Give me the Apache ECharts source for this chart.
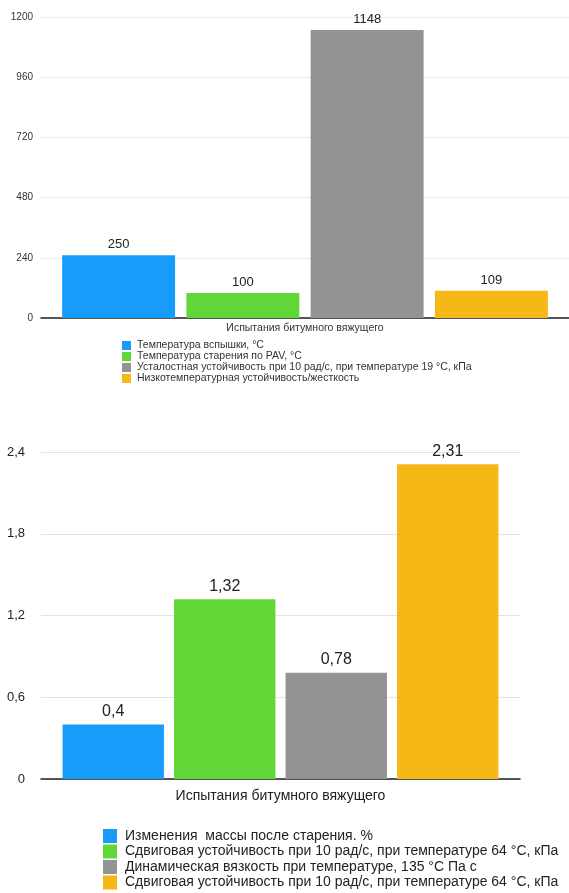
<!DOCTYPE html>
<html><head><meta charset="utf-8">
<script src="https://cdn.jsdelivr.net/npm/echarts@6/dist/echarts.min.js"></script>
<style>html,body{margin:0;padding:0;background:#fff}#c{width:569px;height:893px}</style>
</head><body><div id="c"></div>
<script>
var categories = ['Испытания битумного вяжущего'];
var names1 = ['Температура вспышки, °С', 'Температура старения по PAV, °С', 'Усталостная устойчивость при 10 рад/с, при температуре 19 °С, кПа', 'Низкотемпературная устойчивость/жесткость'];
var values1 = [250, 100, 1148, 109];
var ticks1 = [0, 240, 480, 720, 960, 1200];
var names2 = ['Изменения  массы после старения. %', 'Сдвиговая устойчивость при 10 рад/с, при температуре 64 °С, кПа', 'Динамическая вязкость при температуре, 135 °С Па с', 'Сдвиговая устойчивость при 10 рад/с, при температуре 64 °С, кПа\u200b'];
var values2 = [0.4, 1.32, 0.78, 2.31];
var ticks2 = [0, 0.6, 1.2, 1.8, 2.4];
var colors = ['#189CFB', '#60D737', '#939393', '#F5B816'];
var FONT = 'Liberation Sans, Arial, sans-serif';
function comma(v){ return String(v).replace('.', ','); }

var series = [];
names1.forEach(function(n, i){
  series.push({type:'bar', name:n, xAxisIndex:0, yAxisIndex:0, data:[values1[i]],
    barGap:'10%', barCategoryGap:'8%', itemStyle:{color:colors[i]},
    label:{show:true, position:'top', distance:4, color:'#222', fontSize:13, fontFamily:FONT}});
});
names2.forEach(function(n, i){
  series.push({type:'bar', name:n, xAxisIndex:1, yAxisIndex:1, data:[values2[i]],
    barGap:'10%', barCategoryGap:'9%', itemStyle:{color:colors[i]},
    label:{show:true, position:'top', distance:5, color:'#222', fontSize:16, fontFamily:FONT,
      formatter:function(p){return comma(p.value);}}});
});

var chart = echarts.init(document.getElementById('c'));
chart.setOption({
  animation:false,
  color:colors,
  textStyle:{fontFamily:FONT},
  grid:[
    {left:41, right:0, top:17, bottom:893-318},
    {left:41, right:49, top:452, bottom:893-779}
  ],
  xAxis:[
    {type:'category', gridIndex:0, data:categories, axisTick:{show:false}, axisLabel:{show:false},
     axisLine:{lineStyle:{color:'#222', width:1.5}},
     name:categories[0], nameLocation:'middle', nameGap:5,
     nameTextStyle:{fontSize:10.5, color:'#333', fontFamily:FONT, verticalAlign:'top'}},
    {type:'category', gridIndex:1, data:categories, axisTick:{show:false}, axisLabel:{show:false},
     axisLine:{lineStyle:{color:'#222', width:1.5}},
     name:categories[0], nameLocation:'middle', nameGap:10,
     nameTextStyle:{fontSize:14, color:'#222', fontFamily:FONT, verticalAlign:'top'}}
  ],
  yAxis:[
    {type:'value', gridIndex:0, min:ticks1[0], max:ticks1[ticks1.length-1], interval:ticks1[1]-ticks1[0],
     axisLine:{show:false}, axisTick:{show:false},
     axisLabel:{fontSize:10, color:'#333', margin:8, fontFamily:FONT, formatter:function(v){return String(v);}},
     splitLine:{lineStyle:{color:'#ebebeb'}}},
    {type:'value', gridIndex:1, min:ticks2[0], max:ticks2[ticks2.length-1], interval:ticks2[1]-ticks2[0],
     axisLine:{show:false}, axisTick:{show:false},
     axisLabel:{fontSize:13, color:'#222', margin:16, fontFamily:FONT, formatter:function(v){return comma(v);}},
     splitLine:{lineStyle:{color:'#e3e3e3'}}}
  ],
  legend:[
    {data:names1, orient:'vertical', left:117, top:335, height:60, itemWidth:9, itemHeight:9, itemGap:0,
     icon:'rect', selectedMode:false, textStyle:{fontSize:10.5, color:'#333', fontFamily:FONT, padding:[0,0,0,1]}},
    {data:names2, orient:'vertical', left:98, top:824, height:80, itemWidth:14, itemHeight:14, itemGap:1.5,
     icon:'rect', selectedMode:false, textStyle:{fontSize:14, color:'#222', fontFamily:FONT, padding:[0,0,0,3]}}
  ],
  series:series
});
</script></body></html>
